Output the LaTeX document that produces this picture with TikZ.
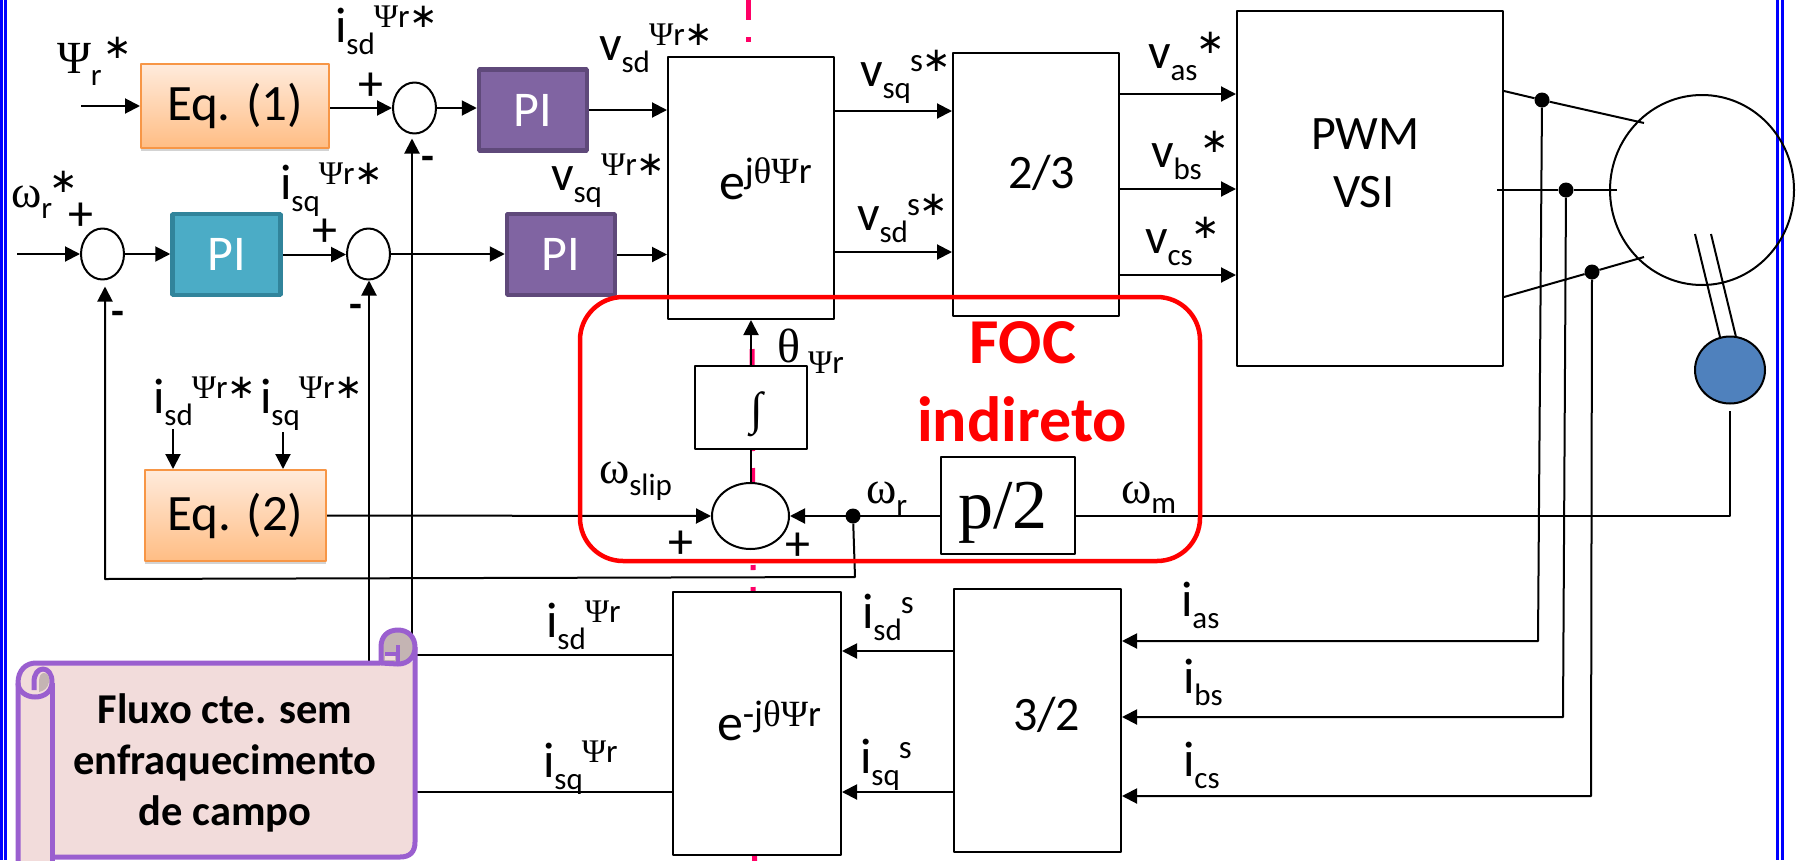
\documentclass[tikz,border=0pt]{standalone}
\usepackage[x11names, svgnames, rgb]{xcolor}
\usepackage{fontspec}
\setmainfont{Carlito}
\newfontfamily\grk{Liberation Serif}
\newfontfamily\stf{DejaVu Sans}
\usepackage{tikz}
\usetikzlibrary{arrows.meta, shapes.geometric, shadows}
\definecolor{pibody}{HTML}{8064A2}
\definecolor{piedge}{HTML}{5F497A}
\definecolor{picyan}{HTML}{4BACC6}
\definecolor{picyanedge}{HTML}{31849B}
\definecolor{eqedge}{HTML}{F79646}
\definecolor{eqtop}{HTML}{FFEBDC}
\definecolor{eqbot}{HTML}{FFBD84}
\definecolor{scrollfill}{HTML}{F2DCDB}
\definecolor{scrolledge}{HTML}{9A5FCF}
\definecolor{scrollcurl}{HTML}{C4B4B3}
\definecolor{axispink}{HTML}{FF0066}
\definecolor{encblue}{HTML}{4F81BD}

\newcommand{\bigf}{\fontsize{50}{56}\selectfont}
\newcommand{\midf}{\fontsize{48}{54}\selectfont}
\newcommand{\lowf}{\fontsize{31}{36}\selectfont}
\newcommand{\supf}{\fontsize{33}{38}\selectfont}
\newcommand{\fluxr}{{\grk Ψ}r}
\newcommand{\stark}{{\stf\fontsize{34}{38}\selectfont ∗}}
\newcommand{\omg}{{\grk\fontsize{46}{50}\selectfont ω}}
\newcommand{\varlab}[3]{\bigf #1\raisebox{-12pt}{\lowf #2}\hspace{-1pt}\raisebox{15pt}{\supf #3}}

\tikzset{
    lbl/.style={anchor=base west, inner sep=0pt, outer sep=0pt, text=black},
    blockbox/.style={draw, line width=2pt, fill=white, inner sep=0pt},
    sumnode/.style={draw, ellipse, line width=2pt, fill=white, inner sep=0pt},
    pibox/.style={draw=piedge, fill=pibody, line width=4.5pt, minimum width=108pt, minimum height=81pt, text=white, font=\bigf, inner sep=0pt},
    eqbox/.style={draw=eqedge, line width=2pt, top color=eqtop, bottom color=eqbot, font=\fontsize{51}{56}\selectfont, inner sep=0pt,
        drop shadow={opacity=.35, shadow xshift=0pt, shadow yshift=-3pt}},
    hub/.style={circle, fill=black, minimum size=15pt, inner sep=0pt},
    plussgn/.style={anchor=center, inner sep=0pt, font=\fontsize{50}{54}\selectfont},
    minussgn/.style={anchor=center, inner sep=0pt, font=\fontsize{42}{46}\selectfont\bfseries},
    wire/.style={line width=2pt},
    axisline/.style={draw=axispink, line width=5pt, dash pattern=on 80pt off 17pt on 5pt off 17pt},
    bordline/.style={draw=blue, line width=3pt},
    scrolled/.style={draw=scrolledge, line width=5pt, line join=round}
}

\begin{document}
\begin{tikzpicture}[>={Triangle[length=15pt,width=15pt]}, line join=bevel, x=1pt, y=-1pt]
        \clip (0,0) rectangle (1802,860);

        \coordinate (axistop) at (748,-60);
        \coordinate (axistopend) at (748,42);
        \coordinate (axislow) at (752,349);
        \coordinate (axislowend) at (755,960);
        \draw[axisline] (axistop) -- (axistopend);
        \draw[axisline] (axislow) -- (axislowend);

        \coordinate (bla) at (1,0);
        \coordinate (blb) at (1,860);
        \coordinate (brc) at (5.5,0);
        \coordinate (brd) at (5.5,860);
        \coordinate (bre) at (1777.5,0);
        \coordinate (brf) at (1777.5,860);
        \coordinate (brg) at (1782.5,0);
        \coordinate (brh) at (1782.5,860);
        \draw[bordline] (bla) -- (blb);
        \draw[bordline] (brc) -- (brd);
        \draw[bordline] (bre) -- (brf);
        \draw[bordline] (brg) -- (brh);

        \node[blockbox, minimum width=166pt, minimum height=262pt] (ejt) at (751,188) {};
        \node[blockbox, minimum width=166pt, minimum height=263pt] (tto) at (1036,184.5) {};
        \node[blockbox, minimum width=266pt, minimum height=355pt] (pwm) at (1370,188.5) {};
        \node[blockbox, minimum width=168pt, minimum height=263pt] (ejn) at (757,723.5) {};
        \node[blockbox, minimum width=167pt, minimum height=263pt] (tot) at (1037.5,720.5) {};
        \node[blockbox, minimum width=112pt, minimum height=83pt] (intg) at (751,407.5) {};
        \node[blockbox, minimum width=134pt, minimum height=97pt] (ptwo) at (1008,505.5) {};

        \node[eqbox, minimum width=188pt, minimum height=84pt] (eqone) at (235,106) {Eq. (1)};
        \node[eqbox, minimum width=181pt, minimum height=91pt] (eqtwo) at (235.5,515.5) {Eq. (2)};
        \node[pibox] (pid) at (533,110) {PI};
        \node[pibox] (piq) at (561,254.5) {PI};
        \node[pibox, draw=picyanedge, fill=picyan] (piw) at (226.5,254.5) {PI};

        \node[sumnode, minimum width=43pt, minimum height=51pt] (sumd) at (414.5,108) {};
        \node[sumnode, minimum width=43pt, minimum height=51pt] (sumw) at (102.5,254) {};
        \node[sumnode, minimum width=43pt, minimum height=51pt] (sumq) at (368.5,254) {};
        \node[sumnode, minimum width=77pt, minimum height=66pt] (sumslip) at (750.5,516) {};

        \node[draw, ellipse, line width=2pt, minimum width=184pt, minimum height=190pt, inner sep=0pt] (motor) at (1702,190) {};
        \node[draw, ellipse, line width=2pt, fill=encblue, minimum width=70pt, minimum height=67pt, inner sep=0pt] (enc) at (1730,370) {};

        \coordinate (psiin) at (81,106);
        \coordinate (omgin) at (17,254);
        \draw[wire, ->] (psiin) -- (eqone.west);
        \draw[wire, ->] (eqone.east |- sumd) -- (sumd.west);
        \draw[wire, ->] (sumd.east) -- (pid.west |- sumd);
        \draw[wire, ->] (pid.east) -- (ejt.west |- pid);
        \draw[wire, ->] (omgin) -- (sumw.west);
        \draw[wire, ->] (sumw.east) -- (piw.west |- sumw);
        \draw[wire, ->] (piw.east) -- (sumq.west |- piw);
        \draw[wire, ->] (sumq.east) -- (piq.west |- sumq);
        \draw[wire, ->] (piq.east) -- (ejt.west |- piq);

        \draw[wire, ->] (ejt.east |- 0,111) -- (tto.west |- 0,111);
        \draw[wire, ->] (ejt.east |- 0,252) -- (tto.west |- 0,252);
        \draw[wire, ->] (tto.east |- 0,94) -- (pwm.west |- 0,94);
        \draw[wire, ->] (tto.east |- 0,189) -- (pwm.west |- 0,189);
        \draw[wire, ->] (tto.east |- 0,275) -- (pwm.west |- 0,275);

        \coordinate (isdin) at (173,429);
        \coordinate (isqin) at (283,432);
        \draw[wire, ->] (isdin) -- (isdin |- eqtwo.north);
        \draw[wire, ->] (isqin) -- (isqin |- eqtwo.north);

        \node[hub] (hubr) at (853,516) {};
        \coordinate (fbturn) at (855,577);
        \coordinate (fbcorner) at (105,579);
        \coordinate (fbq) at (369,670);
        \coordinate (fbd) at (412,655);
        \coordinate (encfoot) at (1730,411);
        \draw[wire, ->] (eqtwo.east) -- (sumslip.west);
        \draw[wire, ->] (ptwo.west |- sumslip) -- (sumslip.east);
        \draw[wire] (encfoot) -- (encfoot |- sumslip) -- (ptwo.east |- sumslip);
        \draw[wire, ->] (hubr) -- (fbturn) -- (fbcorner) -- ([yshift=-6pt]fbcorner |- sumw.south);
        \draw[wire, ->] (fbq) -- (fbq |- sumq.south);
        \draw[wire, ->] (fbd) -- ([yshift=-4pt]fbd |- sumd.south);
        \draw[wire] (sumslip.north) -- (sumslip.north |- intg.south);
        \draw[wire, ->] (intg.north) -- (intg.north |- ejt.south);

        \draw[wire, ->] (tot.west |- 0,651) -- (ejn.east |- 0,651);
        \draw[wire, ->] (tot.west |- 0,792) -- (ejn.east |- 0,792);
        \draw[wire] (fbd) -- (ejn.west |- fbd);
        \draw[wire] (fbq |- 0,792) -- (ejn.west |- 0,792);

        \node[hub] (huba) at (1542,100) {};
        \node[hub] (hubb) at (1566,190) {};
        \node[hub] (hubc) at (1592,272) {};
        \coordinate (mota) at (1644,123);
        \coordinate (motb) at (1617,190);
        \coordinate (motc) at (1644,257);
        \coordinate (pwmb) at (1497,190);
        \coordinate (turna) at (1538,641);
        \coordinate (turnb) at (1563,717);
        \coordinate (turnc) at (1591,796);
        \draw[wire] (pwm.east |- 0,91) -- (huba) -- (mota);
        \draw[wire] (pwmb) -- (hubb) -- (motb);
        \draw[wire] (pwm.east |- 0,297) -- (hubc) -- (motc);
        \draw[wire, ->] (huba) -- (turna) -- (tot.east |- turna);
        \draw[wire, ->] (hubb) -- (turnb) -- (tot.east |- turnb);
        \draw[wire, ->] (hubc) -- (turnc) -- (tot.east |- turnc);

        \coordinate (shafta) at (1695,234);
        \coordinate (shaftb) at (1711,234);
        \coordinate (shaftc) at (1720,337);
        \coordinate (shaftd) at (1736,337);
        \draw[wire] (shafta) -- (shaftc);
        \draw[wire] (shaftb) -- (shaftd);

        \node[draw=red, line width=4.5pt, rounded corners=43pt, minimum width=620pt, minimum height=264pt, inner sep=0pt] (foc) at (890,429) {};

        \fill[scrollfill] (18,880) -- (18,683) .. controls (18,670) and (26,662) .. (36,662) -- (415,662) -- (415,842) .. controls (415,852) and (410,857) .. (400,857) -- (53,857) -- (53,880) -- cycle;
        \draw[scrolled] (18,880) -- (18,683) .. controls (18,670) and (26,663) .. (36,663) -- (380,663);
        \draw[scrolled] (415,647) -- (415,842) .. controls (415,852) and (410,857) .. (400,857) -- (53,857);
        \draw[scrolled] (52,880) -- (52,683);
        \draw[scrolled] (18,683) .. controls (18,691) and (26,697) .. (35,697) .. controls (45,697) and (52,691) .. (52,682) .. controls (52,674) and (48,669) .. (43,669) .. controls (38,669) and (34,674) .. (34,682) -- (34,690);
        \fill[scrollcurl] (39,692) -- (39,682) .. controls (39,676) and (41,673) .. (44,673) .. controls (48,673) and (50,677) .. (49,682) .. controls (48,688) and (44,691) .. (39,692) -- cycle;
        \draw[scrolled, fill=scrollcurl] (381,663) -- (381,647) .. controls (381,636) and (388,630) .. (398,630) .. controls (408,630) and (415,637) .. (415,647) .. controls (415,657) and (408,664) .. (398,664) -- cycle;
        \fill[scrollfill] (385,656) rectangle (395,660);
        \draw[draw=scrolledge, line width=4pt] (398,645) -- (398,662);
        \draw[draw=scrolledge, line width=4pt] (385,654) -- (398,654);

        \node[anchor=center, inner sep=0pt, align=center, font=\fontsize{42.5}{51}\selectfont\bfseries] (scrolltxt) at (225,763) {Fluxo cte. sem\\enfraquecimento\\de campo};

        \node[lbl, font=\midf] (pwmtxt) at (1311,149) {PWM};
        \node[lbl, font=\midf] (vsitxt) at (1333,207) {VSI};
        \node[lbl, font=\midf] (ttotxt) at (1008,188) {2/3};
        \node[lbl, font=\midf] (tottxt) at (1013,730) {3/2};
        \node[lbl, font=\grk\fontsize{70}{74}\selectfont] (ptwotxt) at (958,528) {p/2};
        \node[lbl, font=\grk\fontsize{46}{50}\selectfont] (intgtxt) at (750,424) {∫};
        \node[lbl, font=\fontsize{52}{56}\selectfont] (ejttxt) at (719,199) {e\raisebox{16pt}{\fontsize{37}{40}\selectfont j{\grk θΨ}r}};
        \node[lbl, font=\fontsize{52}{56}\selectfont] (ejntxt) at (717,740) {e\raisebox{14pt}{\fontsize{37}{40}\selectfont -j{\grk θΨ}r}};
        \node[anchor=base, inner sep=0pt, text=red, font=\fontsize{64}{68}\selectfont\bfseries] (foctxt) at (1023,363) {FOC};
        \node[anchor=base, inner sep=0pt, text=red, font=\fontsize{64}{68}\selectfont\bfseries] (indtxt) at (1022,441) {indireto};

        \node[lbl, font=\grk\fontsize{46}{50}\selectfont] (psiref) at (57,73) {Ψ\raisebox{-12pt}{\rmfamily\lowf r}\hspace{2pt}\raisebox{15pt}{\stark}};
        \node[lbl] (omgref) at (11,207) {\omg\raisebox{-11pt}{\lowf r}\hspace{-3pt}\raisebox{15pt}{\stark}};
        \node[lbl] (isdref) at (335,42) {\varlab{i}{sd}{\fluxr\stark}};
        \node[lbl] (isqref) at (280,199) {\varlab{i}{sq}{\fluxr\stark}};
        \node[lbl] (vsdref) at (599,60) {\varlab{v}{sd}{\fluxr\stark}};
        \node[lbl] (vsqref) at (551,190) {\varlab{v}{sq}{\fluxr\stark}};
        \node[lbl] (isdeq) at (153,413) {\varlab{i}{sd}{\fluxr\stark}};
        \node[lbl] (isqeq) at (260,413) {\varlab{i}{sq}{\fluxr\stark}};
        \node[lbl] (vsqs) at (860,86) {\varlab{v}{sq}{s\stark}};
        \node[lbl] (vsds) at (857,230) {\varlab{v}{sd}{s\stark}};
        \node[lbl] (vasref) at (1148,68) {\varlab{v}{as}{\stark}};
        \node[lbl] (vbsref) at (1151,167) {\varlab{v}{bs}{\stark}};
        \node[lbl] (vcsref) at (1145,253) {\varlab{v}{cs}{\stark}};
        \node[lbl] (isdfb) at (546,637) {\varlab{i}{sd}{\fluxr}};
        \node[lbl] (isqfb) at (543,777) {\varlab{i}{sq}{\fluxr}};
        \node[lbl] (isds) at (862,628) {\varlab{i}{sd}{s}};
        \node[lbl] (isqs) at (860,773) {\varlab{i}{sq}{s}};
        \node[lbl] (iastxt) at (1181,616) {\bigf i\raisebox{-12pt}{\lowf as}};
        \node[lbl] (ibstxt) at (1183,693) {\bigf i\raisebox{-12pt}{\lowf bs}};
        \node[lbl] (icstxt) at (1183,776) {\bigf i\raisebox{-12pt}{\lowf cs}};
        \node[lbl] (thetatxt) at (777,362) {{\grk\fontsize{48}{50}\selectfont θ}\hspace{8pt}\raisebox{-11pt}{{\grk\supf Ψ}\supf r}};
        \node[lbl] (slipw) at (599,483) {\omg\raisebox{-12pt}{\lowf slip}};
        \node[lbl] (omgr) at (866,503) {\omg\raisebox{-12pt}{\lowf r}};
        \node[lbl] (omgm) at (1121,503) {\omg\raisebox{-10pt}{\lowf m}};

        \node[plussgn] (plusd) at (371,87) {+};
        \node[plussgn] (plusw) at (81,217) {+};
        \node[plussgn] (plusq) at (325,233) {+};
        \node[plussgn] (pluss) at (681,545) {+};
        \node[plussgn] (plusr) at (798,547) {+};
        \node[minussgn] (minusd) at (428,163) {-};
        \node[minussgn] (minusw) at (118,318) {-};
        \node[minussgn] (minusq) at (356,311) {-};
      \end{tikzpicture}
\end{document}
